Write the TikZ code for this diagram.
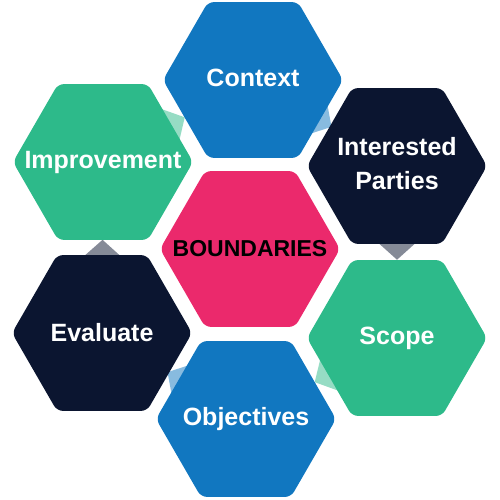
\documentclass[tikz,border=0pt]{standalone}
\usepackage{fontspec}
\setmainfont{Liberation Sans}
\usetikzlibrary{shapes.geometric,calc,backgrounds}

\definecolor{hexblue}{HTML}{1177C0}
\definecolor{hexgreen}{HTML}{2DBA8A}
\definecolor{hexnavy}{HTML}{0B1530}
\definecolor{hexpink}{HTML}{EB296C}

\begin{document}
\begin{tikzpicture}[x=1pt, y=-1pt,
    hex/.style={regular polygon, regular polygon sides=6, minimum size=180pt,
        inner sep=0pt, rounded corners=6pt},
    txt/.style={text=white, align=center, font=\bfseries\fontsize{25}{34}\selectfont}]

    \useasboundingbox (0,0) rectangle (500,500);

    % Waben
    \node[hex, fill=hexpink] (bound) at (250,249) {};
    \node[hex, fill=hexblue] (ctx) at (253,80) {};
    \node[hex, fill=hexnavy] (inter) at (397,166) {};
    \node[hex, fill=hexgreen] (scope) at (397,338) {};
    \node[hex, fill=hexblue] (obj) at (246,419) {};
    \node[hex, fill=hexnavy] (eval) at (102,333) {};
    \node[hex, fill=hexgreen] (impr) at (103,162) {};

    % Beschriftung
    \node[txt, text=black, font=\bfseries\fontsize{23}{30}\selectfont] (bound-t) at (bound) {BOUNDARIES};
    \node[txt] (ctx-t) at ([yshift=2pt]ctx) {Context};
    \node[txt] (inter-t) at ([yshift=2pt]inter) {Interested\\Parties};
    \node[txt] (scope-t) at (scope) {Scope};
    \node[txt] (obj-t) at (obj) {Objectives};
    \node[txt] (eval-t) at (eval) {Evaluate};
    \node[txt] (impr-t) at (impr) {Improvement};

    % Pfeilspitzen
    \begin{scope}[on background layer]
        \foreach \von/\nach/\farbe in {impr/ctx/hexgreen, ctx/inter/hexblue, inter/scope/hexnavy,
                scope/obj/hexgreen, obj/eval/hexblue, eval/impr/hexnavy}
            \fill[\farbe, opacity=.5] ($(\von)!.43!(\nach)!22pt!90:(\nach)$) -- ($(\von)!.545!(\nach)$)
                -- ($(\von)!.43!(\nach)!22pt!-90:(\nach)$) -- cycle;
    \end{scope}

\end{tikzpicture}
\end{document}
